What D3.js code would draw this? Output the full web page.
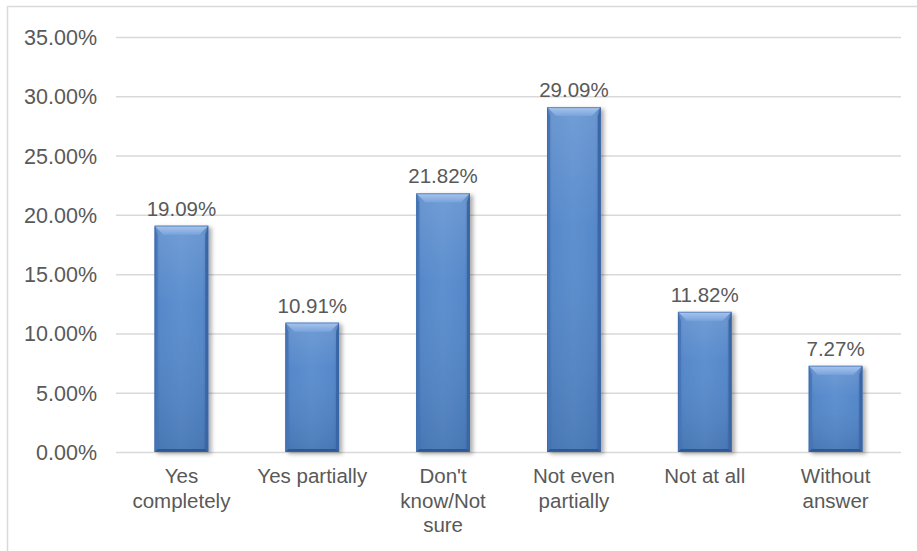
<!DOCTYPE html>
<html>
<head>
<meta charset="utf-8">
<script src="https://cdn.jsdelivr.net/npm/d3@7/dist/d3.min.js"></script>
<style>
  html, body { margin: 0; padding: 0; background: #fff; }
  svg { display: block; }
  text { font-family: "Liberation Sans", Arial, sans-serif; fill: #595959; }
</style>
</head>
<body>
<svg id="chart" width="917" height="551"></svg>
<script>
// Survey answers and their shares (%)
const categories = [
  ["Yes", "completely"],
  ["Yes partially"],
  ["Don't", "know/Not", "sure"],
  ["Not even", "partially"],
  ["Not at all"],
  ["Without", "answer"]
];
const values = [19.09, 10.91, 21.82, 29.09, 11.82, 7.27];
const yTicks = [0, 5, 10, 15, 20, 25, 30, 35];

const W = 917, H = 551;
const plot = { left: 116, right: 901, top: 37, bottom: 452 };

const svg = d3.select("#chart");
const defs = svg.append("defs");

// Soft shadow behind each column
const shadow = defs.append("filter").attr("id", "colShadow")
  .attr("x", "-30%").attr("y", "-10%").attr("width", "160%").attr("height", "130%");
shadow.append("feDropShadow")
  .attr("dx", 3).attr("dy", 2).attr("stdDeviation", 2.2)
  .attr("flood-color", "#000").attr("flood-opacity", 0.33);

// Column body: darker edges, lighter middle
const body = defs.append("linearGradient").attr("id", "colBody")
  .attr("x1", "0").attr("x2", "1").attr("y1", "0").attr("y2", "0");
[["0%", "#4373b6"], ["10%", "#5084c8"], ["50%", "#578bcd"], ["90%", "#5084c8"], ["100%", "#3f6cad"]]
  .forEach(([o, c]) => body.append("stop").attr("offset", o).attr("stop-color", c));

// Vertical shading over the body: lighter near the top, deeper at the base
const shade = defs.append("linearGradient").attr("id", "colShade")
  .attr("x1", "0").attr("x2", "0").attr("y1", "0").attr("y2", "1");
[["0%", "#ffffff", 0.16], ["35%", "#ffffff", 0.04], ["100%", "#000000", 0.1]]
  .forEach(([o, c, a]) => shade.append("stop").attr("offset", o).attr("stop-color", c).attr("stop-opacity", a));

// Top bevel face
const topFace = defs.append("linearGradient").attr("id", "colTop")
  .attr("x1", "0").attr("x2", "0").attr("y1", "0").attr("y2", "1");
[["0%", "#a9c6ee"], ["100%", "#79a3dc"]]
  .forEach(([o, c]) => topFace.append("stop").attr("offset", o).attr("stop-color", c));

// Frame around the chart area
svg.append("rect")
  .attr("x", 7.5).attr("y", 6.5)
  .attr("width", W + 20).attr("height", H + 20)
  .attr("fill", "none").attr("stroke", "#d9d9d9").attr("stroke-width", 1.5);

const x = d3.scaleBand()
  .domain(d3.range(categories.length))
  .range([plot.left, plot.right])
  .paddingInner(0.59)
  .paddingOuter(0.295);

const y = d3.scaleLinear()
  .domain([0, 35])
  .range([plot.bottom, plot.top]);

// Horizontal gridlines
svg.append("g")
  .selectAll("line")
  .data(yTicks)
  .join("line")
  .attr("x1", plot.left).attr("x2", plot.right)
  .attr("y1", d => y(d) + 0.5).attr("y2", d => y(d) + 0.5)
  .attr("stroke", "#d9d9d9").attr("stroke-width", 1.5);

// Y axis tick labels
const yAxis = d3.axisLeft(y)
  .tickValues(yTicks)
  .tickSize(0)
  .tickPadding(0)
  .tickFormat(d => d.toFixed(2) + "%");
const yG = svg.append("g")
  .attr("transform", `translate(${plot.left - 19},0)`)
  .call(yAxis);
yG.select(".domain").remove();
yG.selectAll("text")
  .attr("font-size", "21.5px")
  .attr("font-family", "'Liberation Sans', Arial, sans-serif")
  .attr("fill", "#595959")
  .attr("dy", "0.35em");

// Columns
const bw = x.bandwidth();
const bars = svg.append("g").selectAll("g.col")
  .data(values)
  .join("g")
  .attr("class", "col")
  .attr("filter", "url(#colShadow)");

bars.each(function (v, i) {
  const g = d3.select(this);
  const x0 = x(i), x1 = x0 + bw;
  const t = y(v), b = y(0);
  const bev = 9, side = 3;

  g.append("rect")
    .attr("x", x0).attr("y", t)
    .attr("width", bw).attr("height", b - t)
    .attr("fill", "url(#colBody)");
  g.append("rect")
    .attr("x", x0).attr("y", t)
    .attr("width", bw).attr("height", b - t)
    .attr("fill", "url(#colShade)");

  // side bevels
  g.append("polygon")
    .attr("points", [[x0, t], [x0 + side, t + bev], [x0 + side, b - side], [x0, b]].join(" "))
    .attr("fill", "#4676b8");
  g.append("polygon")
    .attr("points", [[x1, t], [x1 - side, t + bev], [x1 - side, b - side], [x1, b]].join(" "))
    .attr("fill", "#3b66a5");

  // top bevel
  g.append("polygon")
    .attr("points", [[x0, t], [x1, t], [x1 - bev, t + bev], [x0 + bev, t + bev]].join(" "))
    .attr("fill", "url(#colTop)");

  // bottom bevel
  g.append("polygon")
    .attr("points", [[x0, b], [x1, b], [x1 - side, b - side], [x0 + side, b - side]].join(" "))
    .attr("fill", "#2f5894");

  // outline
  g.append("rect")
    .attr("x", x0 + 0.5).attr("y", t + 0.5)
    .attr("width", bw - 1).attr("height", b - t - 1)
    .attr("fill", "none").attr("stroke", "#3b68a8").attr("stroke-width", 1)
    .attr("stroke-opacity", 0.6);
});

// Value labels
svg.append("g").selectAll("text")
  .data(values)
  .join("text")
  .attr("x", (d, i) => x(i) + bw / 2)
  .attr("y", d => y(d) - 10)
  .attr("text-anchor", "middle")
  .attr("font-size", "20.5px")
  .text(d => d.toFixed(2) + "%");

// Category labels (wrapped)
const cat = svg.append("g").selectAll("text")
  .data(categories)
  .join("text")
  .attr("x", (d, i) => x(i) + bw / 2)
  .attr("y", 483)
  .attr("text-anchor", "middle")
  .attr("font-size", "20.5px");
cat.selectAll("tspan")
  .data(d => d)
  .join("tspan")
  .attr("x", function () { return d3.select(this.parentNode).attr("x"); })
  .attr("dy", (d, j) => j === 0 ? 0 : 24.5)
  .text(d => d);
</script>
</body>
</html>
